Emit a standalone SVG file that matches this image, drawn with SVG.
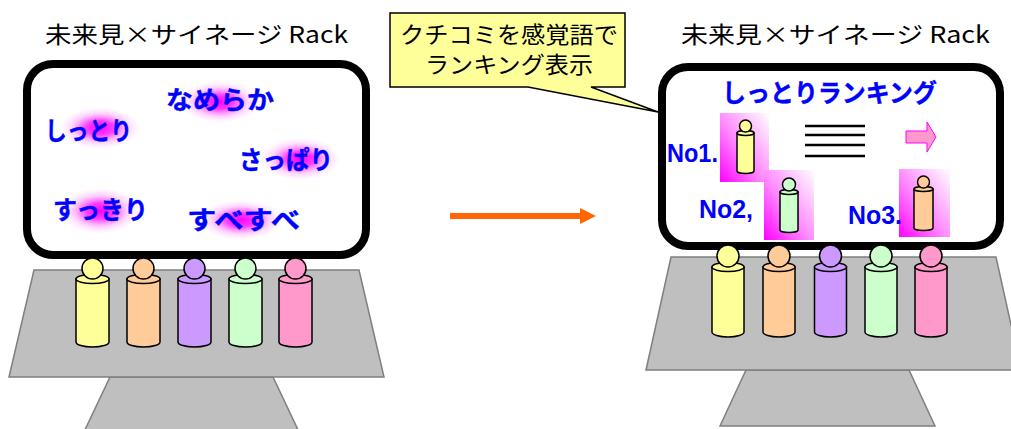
<svg xmlns="http://www.w3.org/2000/svg" width="1011" height="429" viewBox="0 0 1011 429">
  <defs>
    <style>
      .title { font-family: "Noto Sans CJK JP", "Liberation Sans", sans-serif; font-size: 23px; fill: #000; }
      .word { font-family: "Noto Sans CJK JP", "Liberation Sans", sans-serif; font-size: 25px; font-weight: 700; fill: #0000FF; stroke: #0000FF; stroke-width: 0.4; }
      .rank { font-family: "Liberation Sans", "Noto Sans CJK JP", sans-serif; font-size: 26px; font-weight: 700; fill: #0000FF; }
      .note { font-family: "Noto Sans CJK JP", "Liberation Sans", sans-serif; font-size: 22.5px; fill: #000; }
      .screen { fill: #FFFFFF; stroke: #000; stroke-width: 8; }
      .stand { fill: #BFBFBF; stroke: #7F7F7F; stroke-width: 1.5; }
      .fig { stroke: #000; stroke-width: 1.5; }
      .y { fill: #FFFF99; } .o { fill: #FFCC99; } .p { fill: #CC99FF; } .g { fill: #CCFFCC; } .k { fill: #FF99CC; }
    </style>
    <radialGradient id="glow">
      <stop offset="0" stop-color="#FF00FF" stop-opacity="1"/>
      <stop offset="0.35" stop-color="#FF00FF" stop-opacity="0.75"/>
      <stop offset="0.7" stop-color="#FF55FF" stop-opacity="0.25"/>
      <stop offset="1" stop-color="#FF99FF" stop-opacity="0"/>
    </radialGradient>
    <linearGradient id="tile" x1="0" y1="1" x2="1" y2="0">
      <stop offset="0" stop-color="#FF00FF"/>
      <stop offset="0.45" stop-color="#FF88FF"/>
      <stop offset="1" stop-color="#FFFFFF"/>
    </linearGradient>
    <marker id="arrowOrange" markerWidth="4" markerHeight="4" refX="0" refY="2" orient="auto" markerUnits="userSpaceOnUse" viewBox="0 0 4 4" overflow="visible">
      <path d="M0,-6 L16,2 L0,10 Z" fill="#FF6600"/>
    </marker>
  </defs>

  <!-- left rack: before -->
  <g id="left-rack">
    <text class="title" x="45" y="43" textLength="303" lengthAdjust="spacingAndGlyphs">未来見×サイネージ Rack</text>
    <polygon class="stand" points="110,377 273,377 300,434 83,434"/>
    <polygon class="stand" points="34,270 359,270 384,377 9,377"/>
    <rect class="screen" x="27" y="64" width="339" height="191" rx="26"/>
    <ellipse cx="220" cy="102" rx="40" ry="21" fill="url(#glow)"/>
    <ellipse cx="100" cy="128" rx="40" ry="21" fill="url(#glow)"/>
    <ellipse cx="300" cy="159" rx="40" ry="21" fill="url(#glow)"/>
    <ellipse cx="100" cy="211" rx="40" ry="23" fill="url(#glow)"/>
    <ellipse cx="241" cy="220" rx="42" ry="20" fill="url(#glow)"/>
    <text class="word" x="166" y="109" textLength="108" lengthAdjust="spacingAndGlyphs">なめらか</text>
    <text class="word" x="45" y="140" textLength="87" lengthAdjust="spacingAndGlyphs">しっとり</text>
    <text class="word" x="239" y="169" textLength="94" lengthAdjust="spacingAndGlyphs">さっぱり</text>
    <text class="word" x="53" y="219" textLength="95" lengthAdjust="spacingAndGlyphs">すっきり</text>
    <text class="word" x="187" y="229" textLength="113" lengthAdjust="spacingAndGlyphs">すべすべ</text>
    <!-- figures on the rack -->
    <g class="fig">
      <path class="y" d="M76,279 V342 A16.5,5 0 0 0 109,342 V279 Z"/><ellipse class="y" cx="92.5" cy="279" rx="16.5" ry="4.5"/><circle class="y" cx="92.5" cy="268.5" r="10.5"/>
      <path class="o" d="M127,279 V342 A16.5,5 0 0 0 160,342 V279 Z"/><ellipse class="o" cx="143.5" cy="279" rx="16.5" ry="4.5"/><circle class="o" cx="143.5" cy="268.5" r="10.5"/>
      <path class="p" d="M178,279 V342 A16.5,5 0 0 0 211,342 V279 Z"/><ellipse class="p" cx="194.5" cy="279" rx="16.5" ry="4.5"/><circle class="p" cx="194.5" cy="268.5" r="10.5"/>
      <path class="g" d="M229,279 V342 A16.5,5 0 0 0 262,342 V279 Z"/><ellipse class="g" cx="245.5" cy="279" rx="16.5" ry="4.5"/><circle class="g" cx="245.5" cy="268.5" r="10.5"/>
      <path class="k" d="M279,279 V342 A16.5,5 0 0 0 312,342 V279 Z"/><ellipse class="k" cx="295.5" cy="279" rx="16.5" ry="4.5"/><circle class="k" cx="295.5" cy="268.5" r="10.5"/>
    </g>
  </g>

  <!-- right rack: after -->
  <g id="right-rack">
    <text class="title" x="681" y="43" textLength="309" lengthAdjust="spacingAndGlyphs">未来見×サイネージ Rack</text>
    <polygon class="stand" points="746,370 909,370 935,426 720,426"/>
    <polygon class="stand" points="671,257 996,257 1021,370 646,370"/>
    <rect class="screen" x="662" y="67" width="338" height="179" rx="26"/>
    <text class="word" x="722" y="102" textLength="215" lengthAdjust="spacingAndGlyphs">しっとりランキング</text>
    <rect x="720" y="113" width="49" height="69" fill="url(#tile)"/>
    <rect x="764" y="170" width="50" height="70" fill="url(#tile)"/>
    <rect x="899" y="169" width="51" height="68" fill="url(#tile)"/>
    <text class="rank" x="667" y="162" textLength="51" lengthAdjust="spacingAndGlyphs">No1.</text>
    <text class="rank" x="699" y="218" textLength="54" lengthAdjust="spacingAndGlyphs">No2,</text>
    <text class="rank" x="848" y="224" textLength="54" lengthAdjust="spacingAndGlyphs">No3.</text>
    <g stroke="#000" stroke-width="2.5">
      <line x1="805" y1="126" x2="865" y2="126"/>
      <line x1="805" y1="135" x2="865" y2="135"/>
      <line x1="805" y1="145" x2="865" y2="145"/>
      <line x1="805" y1="156" x2="865" y2="156"/>
    </g>
    <polygon points="906,131 927,131 927,122 936,137 927,152 927,143 906,143" fill="#FF99CC" stroke="#FF00FF" stroke-width="1"/>
    <!-- ranked figures -->
    <g class="fig" stroke-width="1.2">
      <path class="y" d="M737,133 V171 A8.5,2.5 0 0 0 754,171 V133 Z"/><ellipse class="y" cx="745.5" cy="133" rx="8.5" ry="2.5"/><circle class="y" cx="745.5" cy="126" r="6"/>
      <path class="g" d="M780,192 V230 A9,2.5 0 0 0 798,230 V192 Z"/><ellipse class="g" cx="789" cy="192" rx="9" ry="2.5"/><circle class="g" cx="789" cy="184.5" r="6.5"/>
      <path class="o" d="M914,189 V228 A9.5,2.5 0 0 0 933,228 V189 Z"/><ellipse class="o" cx="923.5" cy="189" rx="9.5" ry="2.5"/><circle class="o" cx="923.5" cy="182" r="6"/>
    </g>
    <!-- figures on the rack -->
    <g class="fig">
      <path class="y" d="M712,267 V332 A16,5 0 0 0 744,332 V267 Z"/><ellipse class="y" cx="728" cy="267" rx="16" ry="4.5"/><circle class="y" cx="728" cy="256" r="11"/>
      <path class="o" d="M763,267 V332 A16,5 0 0 0 795,332 V267 Z"/><ellipse class="o" cx="779" cy="267" rx="16" ry="4.5"/><circle class="o" cx="779" cy="256" r="11"/>
      <path class="p" d="M814.5,267 V332 A16,5 0 0 0 846.5,332 V267 Z"/><ellipse class="p" cx="830.5" cy="267" rx="16" ry="4.5"/><circle class="p" cx="830.5" cy="256" r="11"/>
      <path class="g" d="M865,267 V332 A16,5 0 0 0 897,332 V267 Z"/><ellipse class="g" cx="881" cy="267" rx="16" ry="4.5"/><circle class="g" cx="881" cy="256" r="11"/>
      <path class="k" d="M915,267 V332 A16,5 0 0 0 947,332 V267 Z"/><ellipse class="k" cx="931" cy="267" rx="16" ry="4.5"/><circle class="k" cx="931" cy="256" r="11"/>
    </g>
  </g>

  <!-- callout -->
  <g id="callout">
    <path d="M390,13 H625 V87 H591 L658,112 L528,87 H390 Z" fill="#FFFF99" stroke="#000" stroke-width="1.5"/>
    <text class="note" x="400" y="43" textLength="218" lengthAdjust="spacingAndGlyphs">クチコミを感覚語で</text>
    <text class="note" x="425" y="73" textLength="168" lengthAdjust="spacingAndGlyphs">ランキング表示</text>
  </g>

  <!-- connectors -->
  <g id="connectors">
    <line x1="450" y1="216" x2="580" y2="216" stroke="#FF6600" stroke-width="6" marker-end="url(#arrowOrange)"/>
  </g>
</svg>
